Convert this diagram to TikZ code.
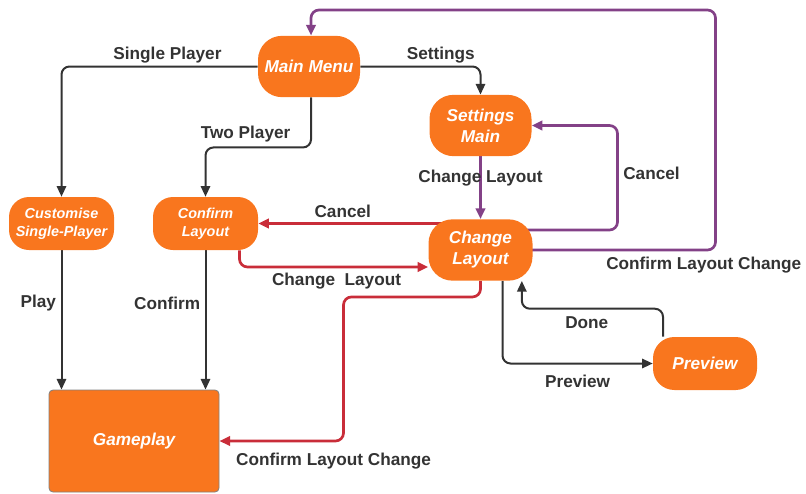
\documentclass[tikz,border=0pt]{standalone}
\usepackage{fontspec}
\setmainfont{Liberation Sans}
\usetikzlibrary{arrows.meta,backgrounds}
\definecolor{boxorange}{HTML}{F9761E}
\definecolor{linkred}{HTML}{C92D39}
\definecolor{linkpurple}{HTML}{834187}
\definecolor{linkgrey}{HTML}{333333}
\tikzset{
  screen/.style={fill=boxorange, text=white, font=\fontsize{12.9}{15.75}\selectfont\bfseries\itshape, align=center, inner sep=0pt, rounded corners=18pt, minimum width=76.5pt, minimum height=46pt},
  smallscreen/.style={screen, font=\fontsize{10.8}{13.5}\selectfont\bfseries\itshape, rounded corners=15pt, minimum width=78.75pt, minimum height=39.75pt},
  gamebox/.style={screen, draw=gray, line width=0.6pt, rounded corners=3pt, minimum width=127.5pt, minimum height=76.5pt},
  link/.style={draw=linkgrey, line width=1.5pt, rounded corners=6pt, -{Triangle[length=8pt,width=7pt]}},
  redlink/.style={link, draw=linkred, line width=2pt},
  purplelink/.style={link, draw=linkpurple, line width=2pt},
  lbl/.style={text=linkgrey, font=\fontsize{12.9}{15}\selectfont\bfseries}
}
\begin{document}
\begin{tikzpicture}[x=0.75pt,y=-0.75pt]
        \useasboundingbox (0,0) rectangle (806,493);
        \node[screen] (menu) at (309,66.5) {Main Menu};
        \node[screen] (settings) at (480.5,125.5) {Settings\\Main};
        \node[screen, minimum width=78pt] (change) at (480.5,250) {Change\\Layout};
        \node[smallscreen] (custom) at (61.5,223.5) {Customise\\Single-Player};
        \node[smallscreen] (confirm) at (205.5,223.5) {Confirm\\Layout};
        \node[gamebox] (game) at (134,441) {Gameplay};
        \node[screen, minimum width=78pt, minimum height=39.75pt, rounded corners=16pt] (preview) at (705,363.5) {Preview};
        \begin{pgfonlayer}{background}
        \draw[link] (menu.west) -| node[lbl, pos=0.23, above=-1.5pt]{Single Player} (custom.north);
        \draw[link] (menu.east) -| node[lbl, pos=0.335, above=-1.5pt]{Settings} (settings.north);
        \draw[link] ([xshift=1.5pt]menu.south) -- ++(0,50) -| node[lbl, pos=0.31, above]{Two Player} (confirm.north);
        \draw[link] (custom.south) -- node[lbl, pos=0.38, left]{Play} (custom.south |- game.north);
        \draw[link] (confirm.south) -- node[lbl, pos=0.38, left]{Confirm} (confirm.south |- game.north);
        \draw[purplelink] (settings.south) -- node[lbl, pos=0.34]{Change Layout} (change.north);
        \draw[purplelink] ([yshift=15pt]change.center) -- ++(137,0) |- node[lbl, pos=0.27, right]{Cancel} (settings.east);
        \draw[purplelink] (change.center) -- ++(235,0) node[lbl, pos=0.95, below=1pt]{Confirm Layout Change} -- ++(0,-240) -| ([xshift=1.5pt]menu.north);
        \draw[redlink] (change.center |- confirm.east) -- node[lbl, pos=0.62, above]{Cancel} (confirm.east);
        \draw[redlink] ([xshift=25.5pt]confirm.south) |- node[lbl, pos=0.757, below]{Change\ \ Layout} ([yshift=-12.75pt]change.west);
        \draw[redlink] (change.south) -- ++(0,16) -- ++(-137,0) |- node[lbl, pos=0.54, below=5pt]{Confirm Layout Change} (game.east);
        \draw[link] ([xshift=16.5pt]change.south) |- node[lbl, pos=0.75, below=4.5pt]{Preview} (preview.west);
        \draw[link] ([xshift=-31.5pt]preview.north) -- ++(0,-28) -| node[lbl, pos=0.27, below=1.5pt]{Done} ([xshift=31pt]change.south);
        \end{pgfonlayer}
\end{tikzpicture}
\end{document}
